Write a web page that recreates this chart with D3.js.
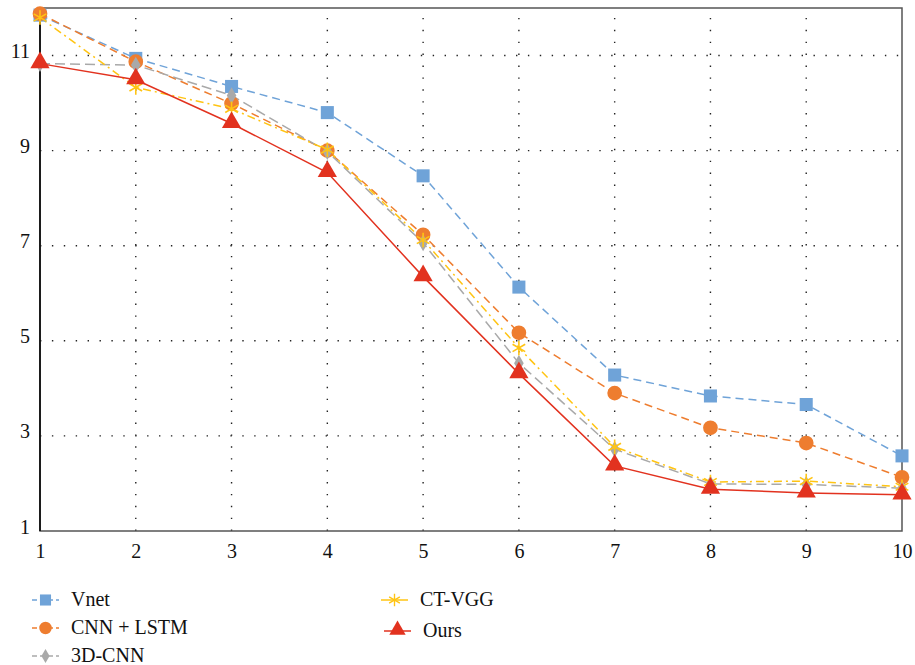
<!DOCTYPE html>
<html lang="en">
<head>
<meta charset="UTF-8">
<title>Line chart</title>
<style>
  body { margin: 0; background: #fff; }
</style>
</head>
<body>
<div id="chart"></div>
<script src="https://cdn.jsdelivr.net/npm/d3@7"></script>
<script>
// data
const epochs = [1, 2, 3, 4, 5, 6, 7, 8, 9, 10];
const vnet    = [11.85, 10.94, 10.35, 9.80, 8.47, 6.13, 4.28, 3.84, 3.66, 2.58];
const cnnLstm = [11.88, 10.87, 9.99, 9.00, 7.23, 5.17, 3.90, 3.17, 2.85, 2.13];
const cnn3d   = [10.83, 10.80, 10.16, 8.98, 7.06, 4.53, 2.72, 1.99, 1.98, 1.90];
const ctVgg   = [11.80, 10.33, 9.88, 9.02, 7.12, 4.85, 2.77, 2.03, 2.05, 1.93];
const ours    = [10.83, 10.49, 9.57, 8.54, 6.35, 4.31, 2.37, 1.88, 1.80, 1.76];
const yTicks  = [1, 3, 5, 7, 9, 11];

const series = [
  { name: 'Vnet',       values: vnet,    color: '#6fa3d8', dash: '8,5',     legendDash: '5,3', marker: 'square' },
  { name: 'CNN + LSTM', values: cnnLstm, color: '#ee7d2f', dash: '8,5',     legendDash: '5,3', marker: 'circle' },
  { name: '3D-CNN',     values: cnn3d,   color: '#a9a9a9', dash: '10,5',    legendDash: '5,3', marker: 'diamond' },
  { name: 'CT-VGG',     values: ctVgg,   color: '#ffc413', dash: '8,4,2,4', legendDash: null,  marker: 'star' },
  { name: 'Ours',       values: ours,    color: '#e2321f', dash: null,      legendDash: null,  marker: 'triangle' }
];

const serif = "'Liberation Serif', 'Times New Roman', Times, Tinos, 'Noto Serif', 'DejaVu Serif', FreeSerif, serif";
const width = 915, height = 665;
const margin = { top: 8, right: 13, bottom: 134, left: 40 };

const svg = d3.select('#chart').append('svg')
  .attr('width', width)
  .attr('height', height);

const x = d3.scaleLinear().domain([1, 10]).range([margin.left, width - margin.right]);
const y = d3.scaleLinear().domain([1, 12]).range([height - margin.bottom, margin.top]);

// dotted grid
const grid = svg.append('g').attr('stroke', '#222').attr('stroke-width', 1.4)
  .attr('stroke-dasharray', '1.4,10.5');
grid.selectAll('.vg').data(epochs.slice(1, -1)).enter().append('line')
  .attr('x1', d => x(d)).attr('x2', d => x(d))
  .attr('y1', y(1)).attr('y2', y(12));
grid.selectAll('.hg').data(yTicks.slice(1)).enter().append('line')
  .attr('x1', x(1)).attr('x2', x(10))
  .attr('y1', d => y(d)).attr('y2', d => y(d));

// frame
svg.append('rect')
  .attr('x', x(1)).attr('y', y(12))
  .attr('width', x(10) - x(1)).attr('height', y(1) - y(12))
  .attr('fill', 'none').attr('stroke', '#555').attr('stroke-width', 1.5);
svg.append('line').attr('x1', x(1)).attr('x2', x(1)).attr('y1', y(12)).attr('y2', y(1))
  .attr('stroke', '#111').attr('stroke-width', 1.8);

// axes
const xAxis = svg.append('g').attr('transform', `translate(0,${y(1)})`)
  .call(d3.axisBottom(x).tickValues(epochs).tickSize(0).tickPadding(12).tickFormat(d3.format('d')));
const yAxis = svg.append('g').attr('transform', `translate(${x(1)},0)`)
  .call(d3.axisLeft(y).tickValues(yTicks).tickSize(0).tickPadding(10).tickFormat(d3.format('d')));
[xAxis, yAxis].forEach(a => {
  a.attr('font-family', serif).attr('font-size', 20);
  a.select('.domain').remove();
  a.selectAll('text').style('font-family', serif).style('font-size', '20px').attr('fill', '#111');
});
xAxis.selectAll('text').attr('dy', '0.75em');
yAxis.selectAll('text').attr('dy', '0.1em');

// markers
const symbols = {
  square: d3.symbol().type(d3.symbolSquare).size(170),
  circle: d3.symbol().type(d3.symbolCircle).size(170),
  diamond: d3.symbol().type(d3.symbolDiamond).size(80),
  triangle: d3.symbol().type(d3.symbolTriangle).size(160),
  star: d3.symbol().type(d3.symbolAsterisk).size(150)
};

function drawMarker(g, m, color, scale) {
  const p = g.append('path').attr('d', symbols[m]());
  if (m === 'star') {
    p.attr('fill', 'none').attr('stroke', color).attr('stroke-width', 1.6);
  } else {
    p.attr('fill', color);
  }
  const k = scale || 1;
  p.attr('transform', (m === 'triangle' ? 'translate(0,-1) ' : '') + `scale(${k})`);
  return p;
}

const line = d3.line().x((d, i) => x(epochs[i])).y(d => y(d));

series.forEach(s => {
  svg.append('path')
    .datum(s.values)
    .attr('d', line)
    .attr('fill', 'none')
    .attr('stroke', s.color)
    .attr('stroke-width', 1.5)
    .attr('stroke-dasharray', s.dash);
});

series.forEach(s => {
  s.values.forEach((v, i) => {
    const g = svg.append('g').attr('transform', `translate(${x(epochs[i])},${y(v)})`);
    drawMarker(g, s.marker, s.color);
  });
});

// legend
const legendPos = [
  { lx: 32, ty: 600 },
  { lx: 32, ty: 628 },
  { lx: 32, ty: 656 },
  { lx: 381, ty: 600 },
  { lx: 384, ty: 631 }
];
series.forEach((s, i) => {
  const p = legendPos[i];
  const g = svg.append('g').attr('transform', `translate(${p.lx},${p.ty})`);
  g.append('line').attr('x1', 0).attr('x2', 27).attr('y1', 0).attr('y2', 0)
    .attr('stroke', s.color).attr('stroke-width', 1.5)
    .attr('stroke-dasharray', s.legendDash);
  const mg = g.append('g').attr('transform', 'translate(13.5,0)');
  drawMarker(mg, s.marker, s.color, 0.85);
  g.append('text').attr('x', 39).attr('y', 6)
    .style('font-family', serif).style('font-size', '20px')
    .attr('fill', '#111').text(s.name);
});
</script>
</body>
</html>
